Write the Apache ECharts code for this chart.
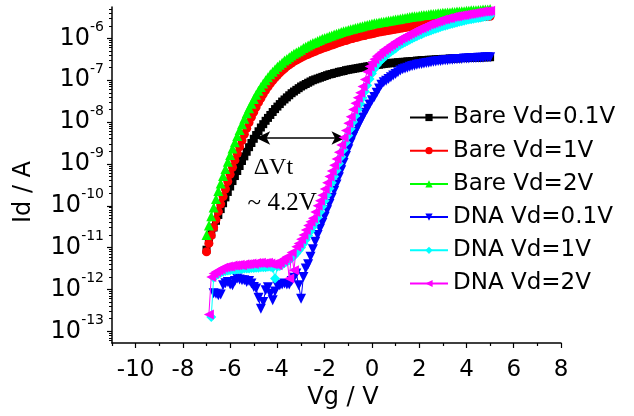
<!DOCTYPE html>
<html><head><meta charset="utf-8">
<script src="https://cdn.jsdelivr.net/npm/echarts@6/dist/echarts.min.js"></script>
<style>html,body{margin:0;padding:0;background:#fff}#c{width:634px;height:416px}</style>
</head><body><div id="c"></div><script>
// Gate-voltage sweeps (V)
const bareStart = -7.0, dnaStart = -6.9, sweepStep = 0.1;
// log10(Id / A), one value per 0.1 V step
const bare01 = [
-11.05,-10.85,-10.68,-10.52,-10.36,-10.22,-10.08,-9.94,-9.80,-9.67,
-9.54,-9.41,-9.29,-9.17,-9.05,-8.93,-8.82,-8.71,-8.60,-8.50,
-8.40,-8.31,-8.22,-8.13,-8.05,-7.97,-7.90,-7.83,-7.76,-7.69,
-7.63,-7.57,-7.51,-7.46,-7.41,-7.36,-7.31,-7.27,-7.23,-7.19,
-7.15,-7.12,-7.09,-7.06,-7.03,-7.00,-6.98,-6.96,-6.94,-6.92,
-6.90,-6.88,-6.86,-6.85,-6.83,-6.82,-6.80,-6.79,-6.78,-6.76,
-6.75,-6.74,-6.73,-6.72,-6.71,-6.70,-6.69,-6.68,-6.67,-6.66,
-6.65,-6.64,-6.63,-6.63,-6.62,-6.61,-6.60,-6.60,-6.59,-6.58,
-6.58,-6.57,-6.57,-6.56,-6.56,-6.55,-6.55,-6.54,-6.54,-6.53,
-6.53,-6.52,-6.52,-6.52,-6.51,-6.51,-6.51,-6.50,-6.50,-6.50,
-6.49,-6.49,-6.49,-6.48,-6.48,-6.48,-6.48,-6.47,-6.47,-6.47,
-6.47,-6.46,-6.46,-6.46,-6.46,-6.46,-6.46,-6.45,-6.45,-6.45,
-6.45];
const bare1 = [
-11.10,-10.90,-10.71,-10.52,-10.33,-10.14,-9.96,-9.78,-9.60,-9.42,
-9.25,-9.08,-8.91,-8.75,-8.59,-8.44,-8.29,-8.15,-8.01,-7.88,
-7.76,-7.64,-7.53,-7.43,-7.33,-7.24,-7.16,-7.08,-7.01,-6.94,
-6.88,-6.82,-6.77,-6.72,-6.67,-6.63,-6.59,-6.55,-6.52,-6.49,
-6.46,-6.43,-6.40,-6.38,-6.35,-6.33,-6.31,-6.28,-6.26,-6.24,
-6.22,-6.20,-6.18,-6.16,-6.14,-6.12,-6.10,-6.08,-6.06,-6.05,
-6.03,-6.01,-6.00,-5.98,-5.97,-5.95,-5.94,-5.93,-5.91,-5.90,
-5.89,-5.88,-5.86,-5.85,-5.84,-5.83,-5.82,-5.81,-5.80,-5.79,
-5.78,-5.77,-5.76,-5.75,-5.74,-5.73,-5.72,-5.71,-5.70,-5.69,
-5.68,-5.67,-5.66,-5.65,-5.64,-5.63,-5.62,-5.61,-5.60,-5.60,
-5.59,-5.58,-5.57,-5.56,-5.56,-5.55,-5.54,-5.54,-5.53,-5.52,
-5.52,-5.51,-5.51,-5.50,-5.50,-5.49,-5.49,-5.48,-5.48,-5.47,
-5.47];
const bare2 = [
-10.70,-10.47,-10.25,-10.04,-9.84,-9.65,-9.47,-9.29,-9.12,-8.95,
-8.79,-8.63,-8.48,-8.33,-8.19,-8.05,-7.92,-7.79,-7.67,-7.56,
-7.45,-7.35,-7.25,-7.16,-7.08,-7.00,-6.93,-6.86,-6.80,-6.74,
-6.68,-6.63,-6.58,-6.53,-6.49,-6.45,-6.41,-6.37,-6.34,-6.31,
-6.27,-6.23,-6.20,-6.17,-6.14,-6.11,-6.09,-6.06,-6.04,-6.01,
-5.99,-5.97,-5.95,-5.93,-5.91,-5.89,-5.87,-5.85,-5.83,-5.82,
-5.80,-5.78,-5.77,-5.75,-5.74,-5.72,-5.71,-5.69,-5.68,-5.67,
-5.65,-5.64,-5.63,-5.62,-5.61,-5.60,-5.59,-5.58,-5.57,-5.56,
-5.55,-5.54,-5.53,-5.52,-5.51,-5.50,-5.49,-5.48,-5.47,-5.47,
-5.46,-5.45,-5.44,-5.44,-5.43,-5.42,-5.42,-5.41,-5.40,-5.40,
-5.39,-5.39,-5.38,-5.38,-5.37,-5.37,-5.36,-5.36,-5.35,-5.35,
-5.34,-5.34,-5.33,-5.33,-5.33,-5.32,-5.32,-5.31,-5.31,-5.31,
-5.30];
const dna01 = [
null,null,-12.09,-12.10,-12.14,-12.12,-11.90,-11.85,-11.82,-11.88,
-11.90,-11.80,-11.74,-11.76,-11.78,-11.78,-11.82,-11.80,-11.86,-11.94,
-11.98,-12.20,-12.46,-12.30,-12.02,-11.95,-12.10,-12.26,-12.05,-11.92,
-11.90,-11.88,-11.86,-11.88,-11.88,-11.80,-11.72,-11.62,-11.90,-12.22,
-11.70,-11.50,-11.40,-11.22,-11.04,-10.86,-10.70,-10.55,-10.41,-10.26,
-10.11,-9.96,-9.81,-9.65,-9.49,-9.32,-9.15,-8.98,-8.81,-8.65,
-8.49,-8.35,-8.23,-8.11,-8.00,-7.89,-7.78,-7.68,-7.58,-7.48,
-7.40,-7.30,-7.20,-7.11,-7.05,-7.01,-6.97,-6.93,-6.89,-6.85,
-6.81,-6.77,-6.74,-6.72,-6.70,-6.68,-6.66,-6.65,-6.63,-6.62,
-6.61,-6.60,-6.59,-6.58,-6.57,-6.56,-6.55,-6.54,-6.54,-6.53,
-6.52,-6.52,-6.51,-6.51,-6.50,-6.50,-6.49,-6.49,-6.48,-6.48,
-6.48,-6.47,-6.47,-6.47,-6.46,-6.46,-6.46,-6.45,-6.45,-6.45];
const dna1 = [
null,-12.66,-11.72,-11.66,-11.63,-11.60,-11.58,-11.56,-11.55,-11.54,
-11.53,-11.53,-11.52,-11.52,-11.51,-11.50,-11.50,-11.50,-11.49,-11.49,
-11.48,-11.48,-11.47,-11.47,-11.47,-11.46,-11.46,-11.48,-11.74,-11.45,
-11.44,-11.41,-11.37,-11.34,-11.30,-11.25,-11.20,-11.14,-11.07,-11.00,
-10.91,-10.81,-10.71,-10.61,-10.51,-10.40,-10.28,-10.15,-10.02,-9.88,
-9.74,-9.59,-9.45,-9.30,-9.15,-8.99,-8.83,-8.66,-8.49,-8.32,
-8.16,-8.00,-7.85,-7.70,-7.56,-7.42,-7.27,-7.12,-6.97,-6.84,
-6.73,-6.64,-6.57,-6.51,-6.46,-6.41,-6.36,-6.32,-6.28,-6.24,
-6.19,-6.15,-6.12,-6.09,-6.06,-6.03,-6.00,-5.97,-5.95,-5.92,
-5.90,-5.87,-5.85,-5.83,-5.81,-5.79,-5.77,-5.75,-5.73,-5.71,
-5.70,-5.68,-5.66,-5.65,-5.63,-5.62,-5.60,-5.59,-5.58,-5.56,
-5.55,-5.54,-5.53,-5.52,-5.51,-5.50,-5.49,-5.48,-5.47,-5.46];
const dna2 = [
-12.60,-11.70,-11.62,-11.58,-11.55,-11.52,-11.48,-11.47,-11.45,-11.45,
-11.43,-11.43,-11.42,-11.41,-11.42,-11.40,-11.40,-11.39,-11.38,-11.39,
-11.37,-11.37,-11.36,-11.38,-11.37,-11.36,-11.38,-11.40,-11.38,-11.42,
-11.36,-11.30,-11.26,-11.22,-11.74,-11.12,-11.54,-10.98,-10.90,-10.80,
-10.70,-10.58,-10.47,-10.38,-10.30,-10.15,-10.00,-9.88,-9.75,-9.60,
-9.45,-9.30,-9.17,-9.03,-8.88,-8.72,-8.55,-8.37,-8.20,-8.03,
-7.87,-7.70,-7.55,-7.42,-7.30,-7.15,-6.98,-6.80,-6.67,-6.58,
-6.50,-6.43,-6.38,-6.33,-6.28,-6.24,-6.20,-6.16,-6.12,-6.08,
-6.05,-6.01,-5.98,-5.95,-5.92,-5.89,-5.86,-5.83,-5.80,-5.77,
-5.75,-5.72,-5.70,-5.67,-5.65,-5.63,-5.61,-5.59,-5.57,-5.55,
-5.54,-5.52,-5.51,-5.49,-5.48,-5.47,-5.46,-5.45,-5.44,-5.43,
-5.42,-5.41,-5.40,-5.39,-5.38,-5.37,-5.36,-5.36,-5.35,-5.34];

const seriesNames = ['Bare Vd=0.1V','Bare Vd=1V','Bare Vd=2V','DNA Vd=0.1V','DNA Vd=1V','DNA Vd=2V'];
const xTicks = [-10,-8,-6,-4,-2,0,2,4,6,8];
const xMinorTicks = [-11,-9,-7,-5,-3,-1,1,3,5,7];
const yDecades = [-13,-12,-11,-10,-9,-8,-7,-6];
const arrowVg = [-4.9, -1.12], arrowLogId = -8.38;
const noteDelta = {text:'ΔVt', vg:-4.17, logId:-9.09};
const noteShift = {text:'~ 4.2V', vg:-3.8, logId:-9.95};

const X_MIN = -11, X_MAX = 8, Y_MIN = -13.28, Y_MAX = -5.25;
const FONT = 'DejaVu Sans';

function pairs(start, arr){
  const out = [];
  arr.forEach((v,i)=>{ if(v!==null) out.push([+(start + i*sweepStep).toFixed(2), v]); });
  return out;
}
const yMinor = [];
for (let n=-14;n<=-5;n++) for (let k=2;k<=9;k++){ const v=n+Math.log10(k); if(v>Y_MIN && v<Y_MAX) yMinor.push(v); }

const styles = [
  {color:'#000000', symbol:'rect', size:8, rot:0},
  {color:'#ff0000', symbol:'circle', size:9, rot:0},
  {color:'#00ff00', symbol:'triangle', size:10, rot:0},
  {color:'#0000ff', symbol:'triangle', size:10, rot:180},
  {color:'#00ffff', symbol:'diamond', size:10, rot:0},
  {color:'#ff00ff', symbol:'triangle', size:10, rot:90}
];
const dataSets = [pairs(bareStart,bare01),pairs(bareStart,bare1),pairs(bareStart,bare2),
                  pairs(dnaStart,dna01),pairs(dnaStart,dna1),pairs(dnaStart,dna2)];

const series = seriesNames.map((name,i)=>({
  name, type:'line', data:dataSets[i], xAxisIndex:0, yAxisIndex:0,
  symbol:styles[i].symbol, symbolSize:styles[i].size, symbolRotate:styles[i].rot,
  showAllSymbol:true, color:styles[i].color,
  lineStyle:{width:1, color:styles[i].color},
  itemStyle:{color:styles[i].color},
  emphasis:{disabled:true}, animation:false, z:2+i
}));
series[5].markLine = {
  silent:true, symbol:['arrow','arrow'], symbolSize:[10,14],
  lineStyle:{color:'#000', width:1.5, type:'solid'}, label:{show:false},
  data:[[{coord:[arrowVg[0],arrowLogId]},{coord:[arrowVg[1],arrowLogId]}]]
};

const axisLineStyle = {color:'#000', width:1.5};
const chart = echarts.init(document.getElementById('c'), null, {renderer:'canvas'});
chart.setOption({
  animation:false,
  backgroundColor:'#fff',
  grid:{left:112, right:73, top:7, bottom:73},
  xAxis:[
    {type:'value', min:X_MIN, max:X_MAX, position:'bottom',
     axisLine:{show:true, onZero:false, lineStyle:axisLineStyle},
     axisTick:{show:true, customValues:xTicks, length:5, lineStyle:{color:'#000', width:1.2}},
     axisLabel:{customValues:xTicks, margin:16, fontFamily:FONT, fontSize:23, color:'#000'},
     splitLine:{show:false}},
    {type:'value', min:X_MIN, max:X_MAX, position:'bottom',
     axisLine:{show:false, onZero:false}, axisLabel:{show:false}, splitLine:{show:false},
     axisTick:{show:true, customValues:xMinorTicks, length:3, lineStyle:{color:'#000', width:1.2}}}
  ],
  yAxis:[
    {type:'value', min:Y_MIN, max:Y_MAX, position:'left',
     axisLine:{show:true, onZero:false, lineStyle:axisLineStyle},
     axisTick:{show:true, customValues:yDecades, length:5, lineStyle:{color:'#000', width:1.2}},
     axisLabel:{customValues:yDecades, margin:8, color:'#000',
       formatter:v=>'{b|10}{s|'+Math.round(v)+'}',
       rich:{b:{fontFamily:FONT, fontSize:24, color:'#000', padding:[6,0,6,0]},
             s:{fontFamily:FONT, fontSize:14, color:'#000', verticalAlign:'top'}}},
     splitLine:{show:false}},
    {type:'value', min:Y_MIN, max:Y_MAX, position:'left',
     axisLine:{show:false, onZero:false}, axisLabel:{show:false}, splitLine:{show:false},
     axisTick:{show:true, customValues:yMinor, length:3, lineStyle:{color:'#000', width:1}}}
  ],
  legend:{
    orient:'vertical', left:404, top:101, itemWidth:38, itemHeight:9, itemGap:10.2,
    data:seriesNames, selectedMode:false,
    textStyle:{fontFamily:FONT, fontSize:23, color:'#000', lineHeight:23, padding:[0,0,0,0]}
  },
  series
});

function px(p){ return chart.convertToPixel({xAxisIndex:0, yAxisIndex:0}, p); }
const pD = px([noteDelta.vg, noteDelta.logId]);
const pS = px([noteShift.vg, noteShift.logId]);
chart.setOption({
  graphic:[
    {type:'text', x:pD[0], y:pD[1], style:{text:noteDelta.text, font:'24px "Liberation Serif"', fill:'#000', align:'center', verticalAlign:'middle'}},
    {type:'text', x:pS[0], y:pS[1], style:{text:noteShift.text, font:'25px "Liberation Serif"', fill:'#000', align:'center', verticalAlign:'middle'}},
    {type:'text', x:24, y:192, rotation:Math.PI/2, style:{text:'Id / A', font:'24px "DejaVu Sans"', fill:'#000', align:'center', verticalAlign:'middle'}},
    {type:'text', x:343, y:398, style:{text:'Vg / V', font:'24px "DejaVu Sans"', fill:'#000', align:'center', verticalAlign:'middle'}}
  ]
});
</script></body></html>
